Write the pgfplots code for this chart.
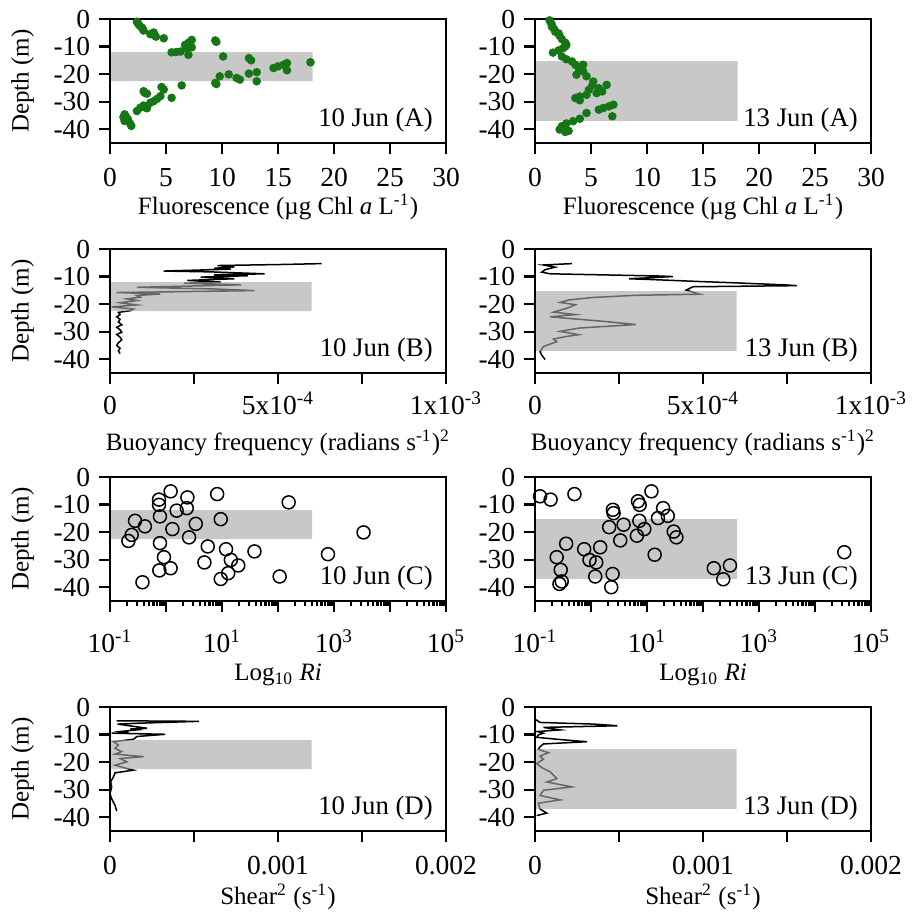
\documentclass[border=0pt]{standalone}
\usepackage{pgfplots}
\pgfplotsset{compat=1.18}
\usepackage{fontspec}
\setmainfont{Liberation Serif}
\definecolor{dotgreen}{RGB}{22,118,22}
\definecolor{bandgray}{RGB}{166,166,166}
\pgfplotsset{
  panel/.style={
    width=134.4pt, height=49.6pt, scale only axis, anchor=north west,
    ymin=-45, ymax=0, ytick={-40,-30,-20,-10,0}, yticklabels={-40,-30,-20,-10,0},
    tick align=outside, xtick pos=lower, ytick pos=left,
    major tick length=4.4pt, minor tick length=2pt,
    every tick/.style={black, line width=0.9pt},
    axis line style={line width=1pt},
    tick label style={font=\fontsize{11}{13}\selectfont},
    label style={font=\fontsize{10.5}{13}\selectfont},
    every axis y label/.style={at={(axis description cs:-0.26,0.5)}, rotate=90, anchor=center},
    axis on top, scaled x ticks=false,
  },
  band/.style={draw=none, fill=bandgray, fill opacity=0.62, forget plot},
  rowA/.style={panel, xmin=0, xmax=30, xtick={0,5,...,30}, xticklabels={0,5,10,15,20,25,30},
    xticklabel style={anchor=base, yshift=-13pt},
    every axis x label/.style={at={(axis description cs:0.5,0)}, anchor=center, yshift=-25.6pt},
    xlabel={Fluorescence (µg Chl \textit{a} L\textsuperscript{-1})}},
  rowB/.style={panel, xmin=0, xmax=1e-3, xtick={0,2.5e-4,5e-4,7.5e-4,1e-3},
    xticklabels={0,,5x10\textsuperscript{-4},,1x10\textsuperscript{-3}},
    xticklabel style={anchor=base, yshift=-12.2pt},
    every axis x label/.style={at={(axis description cs:0.5,0)}, anchor=center, yshift=-28pt},
    xlabel={Buoyancy frequency (radians s\textsuperscript{-1})\textsuperscript{2}}},
  rowC/.style={panel, xmin=0.1, xmax=1e5, xtick={0.1,1,10,100,1000,10000,100000},
    xticklabels={10\textsuperscript{-1},,10\textsuperscript{1},,10\textsuperscript{3},,10\textsuperscript{5}},
    xticklabel style={anchor=base, yshift=-16pt},
    every axis x label/.style={at={(axis description cs:0.5,0)}, anchor=center, yshift=-29.6pt},
    xlabel={Log\textsubscript{10} \textit{Ri}}},
  rowD/.style={panel, xmin=0, xmax=0.002, xtick={0,0.0005,0.001,0.0015,0.002},
    xticklabels={0,,0.001,,0.002},
    xticklabel style={anchor=base, yshift=-13.1pt},
    every axis x label/.style={at={(axis description cs:0.5,0)}, anchor=center, yshift=-26.4pt},
    xlabel={Shear\textsuperscript{2} (s\textsuperscript{-1})}},
}
\newcommand{\paneltag}[1]{\node[anchor=east, font=\fontsize{10.7}{13}\selectfont, inner sep=0pt] at (rel axis cs:0.962,0.185) {#1};}
\begin{document}
\begin{tikzpicture}
\useasboundingbox (0,0) rectangle (369.2pt,-369.2pt);
% ---------------- Row A ----------------
\begin{axis}[rowA, at={(44pt,-7.6pt)}, ylabel={Depth (m)}]
\addplot[only marks, mark=*, mark size=1.5pt, color=dotgreen] coordinates {
(2.4,-1.0) (2.5,-1.6) (2.6,-2.2) (2.8,-3.0) (2.9,-3.4) (3.0,-4.2) (3.6,-5.5) (3.9,-4.9) (4.0,-6.0) (4.1,-6.4) (4.8,-7.0)
(9.4,-7.8) (9.5,-8.3) (7.3,-7.6) (7.1,-8.4) (7.0,-8.8) (6.7,-9.4) (7.2,-10.0) (6.9,-10.6) (7.3,-10.3) (6.3,-11.8) (5.5,-12.1) (5.9,-12.0)
(7.0,-13.0) (10.1,-13.6) (12.4,-14.2) (12.6,-15.0) (17.9,-15.7) (15.8,-16.0) (15.5,-16.6) (15.0,-17.2) (14.6,-17.8) (15.8,-18.6)
(13.1,-19.3) (12.4,-19.8) (10.6,-20.1) (9.8,-20.8) (11.3,-21.4) (11.6,-22.0) (9.4,-23.2) (9.5,-23.6) (13.1,-22.6)
(6.4,-24.1) (4.6,-24.7) (4.8,-25.6) (3.0,-26.2) (3.1,-26.8) (3.3,-27.1) (5.5,-28.6) (4.5,-28.0) (4.2,-29.0) (3.9,-29.8) (3.6,-30.4)
(3.0,-31.4) (3.1,-32.0) (2.7,-32.2) (3.3,-32.4) (2.4,-33.4) (1.3,-34.6) (1.4,-35.2) (1.2,-35.6) (1.6,-36.4) (1.3,-37.0) (1.8,-38.0) (1.9,-38.8)
};
\addplot[band] coordinates {(0,-12) (18.1,-12) (18.1,-22.5) (0,-22.5) (0,-12)};
\paneltag{10 Jun (A)}
\end{axis}
\begin{axis}[rowA, at={(214pt,-7.6pt)}]
\addplot[only marks, mark=*, mark size=1.5pt, color=dotgreen] coordinates {
(1.3,-0.5) (1.4,-1.2) (1.5,-2.0) (1.5,-2.8) (1.7,-3.6) (1.8,-4.6) (2.1,-5.2) (2.2,-6.1) (2.4,-7.3) (2.7,-8.6) (2.8,-9.4) (2.7,-10.0)
(2.5,-10.6) (2.1,-11.4) (1.6,-12.2) (2.4,-13.6) (2.8,-14.6) (3.3,-15.4) (3.6,-16.6) (4.3,-16.6) (3.9,-17.8) (4.3,-19.0) (3.7,-20.2)
(4.6,-20.8) (5.2,-22.7) (6.4,-23.9) (5.1,-24.2) (5.7,-25.1) (4.8,-25.7) (6.0,-26.3) (5.5,-26.9) (4.6,-27.5) (4.0,-28.1) (3.6,-28.7)
(4.0,-29.5) (7.0,-31.1) (6.6,-31.7) (6.1,-32.3) (5.7,-32.9) (4.6,-34.1) (6.9,-35.3) (4.0,-36.2) (3.4,-37.1) (2.8,-37.9) (2.4,-38.9)
(2.2,-40.1) (2.7,-41.0) (3.0,-40.6) (2.5,-39.5)
};
\addplot[band] coordinates {(0,-15.3) (18.1,-15.3) (18.1,-37) (0,-37) (0,-15.3)};
\paneltag{13 Jun (A)}
\end{axis}
% ---------------- Row B ----------------
\begin{axis}[rowB, at={(44pt,-99.6pt)}, ylabel={Depth (m)}]
\addplot[black, line width=0.6pt] coordinates {
(6.3e-4,-5.3) (5.2e-4,-5.6) (3.2e-4,-6.0) (3.7e-4,-6.5) (3.1e-4,-7.0) (3.6e-4,-7.3) (1.6e-4,-8.0) (3.0e-4,-8.3) (4.6e-4,-9.0)
(3.1e-4,-9.4) (4.1e-4,-9.7) (2.7e-4,-10.2) (3.7e-4,-10.8) (2.3e-4,-11.4) (3.3e-4,-12.0) (2.2e-4,-12.4) (3.9e-4,-13.0)
(0.8e-4,-13.9) (3.1e-4,-14.5) (4.3e-4,-15.1) (0.2e-4,-15.8) (1.5e-4,-16.3) (0.8e-4,-16.9) (0.9e-4,-17.5) (0.5e-4,-18.1)
(0.8e-4,-18.7) (0.3e-4,-19.5) (0.8e-4,-20.3) (0.05e-4,-21.0) (0.7e-4,-21.8) (0.6e-4,-22.4) (0.25e-4,-23.0) (0.3e-4,-23.8)
(0.2e-4,-24.6) (0.3e-4,-25.5) (0.25e-4,-26.5) (0.35e-4,-27.5) (0.2e-4,-28.4) (0.3e-4,-29.3) (0.35e-4,-30.2) (0.2e-4,-31.0)
(0.3e-4,-32.0) (0.35e-4,-33.0) (0.25e-4,-34.0) (0.2e-4,-35.0) (0.3e-4,-36.0) (0.25e-4,-37.0) (0.3e-4,-38.0)
};
\addplot[band] coordinates {(0,-12) (6e-4,-12) (6e-4,-22.5) (0,-22.5) (0,-12)};
\paneltag{10 Jun (B)}
\end{axis}
\begin{axis}[rowB, at={(214pt,-99.6pt)}]
\addplot[black, line width=0.6pt] coordinates {
(1.1e-4,-5.3) (0.25e-4,-5.8) (0.6e-4,-6.6) (0.3e-4,-7.5) (0.2e-4,-8.4) (0.45e-4,-9.0) (3.7e-4,-9.8) (4.1e-4,-10.0)
(2.8e-4,-10.8) (3.5e-4,-11.1) (4.9e-4,-11.8) (6.0e-4,-12.3) (7.4e-4,-13.0) (7.8e-4,-13.3) (4.7e-4,-13.7) (4.5e-4,-14.9)
(4.9e-4,-16.4) (3.0e-4,-16.8) (1.7e-4,-17.6) (1.0e-4,-18.5) (0.75e-4,-19.4) (1.2e-4,-20.2) (1.0e-4,-21.3) (0.55e-4,-22.9)
(1.2e-4,-23.8) (0.45e-4,-24.6) (1.1e-4,-25.3) (2.0e-4,-26.2) (3.0e-4,-27.4) (1.3e-4,-28.7) (0.75e-4,-29.9) (1.3e-4,-31.1)
(0.9e-4,-31.8) (0.55e-4,-32.7) (0.65e-4,-33.6) (0.25e-4,-35.4) (0.15e-4,-37.3) (0.2e-4,-38.5) (0.3e-4,-40.1)
};
\addplot[band] coordinates {(0,-15.3) (6e-4,-15.3) (6e-4,-37) (0,-37) (0,-15.3)};
\paneltag{13 Jun (B)}
\end{axis}
% ---------------- Row C ----------------
\begin{semilogxaxis}[rowC, at={(44pt,-190.8pt)}, ylabel={Depth (m)}]
\addplot[only marks, mark=o, mark size=2.6pt, black, line width=0.6pt] coordinates {
(1.21,-5.2) (8.2,-6.2) (2.41,-7.4) (0.75,-8.2) (0.75,-10.1) (155,-9.2) (2.35,-11.3) (1.55,-12.2) (0.78,-14.3) (9.5,-15.3)
(0.28,-15.9) (3.4,-17.0) (0.42,-17.9) (1.3,-18.9) (0.244,-21.0) (0.213,-23.2) (2.58,-21.9) (3370,-20.1) (0.78,-24.0)
(5.57,-25.2) (11.8,-26.2) (38,-27.0) (780,-28.0) (0.92,-29.1) (14.4,-30.1) (4.85,-31.0) (19.5,-32.1) (1.21,-33.1)
(0.76,-33.9) (12.9,-34.9) (107,-36.1) (9.5,-37.0) (0.38,-38.2)
};
\addplot[band] coordinates {(0.1,-12) (405,-12) (405,-22.5) (0.1,-22.5) (0.1,-12)};
\paneltag{10 Jun (C)}
\end{semilogxaxis}
\begin{semilogxaxis}[rowC, at={(214pt,-190.8pt)}]
\addplot[only marks, mark=o, mark size=2.6pt, black, line width=0.6pt] coordinates {
(0.123,-7.0) (0.19,-8.2) (0.506,-6.2) (12.0,-5.2) (6.9,-8.8) (7.4,-10.1) (2.46,-11.9) (2.53,-13.1) (19.4,-11.3) (23.5,-14.1)
(15.7,-14.9) (7.3,-15.9) (3.82,-17.3) (2.11,-18.2) (8.95,-18.9) (30,-19.8) (33.5,-21.9) (6.6,-21.3) (3.33,-23.0) (0.36,-24.2)
(0.755,-26.2) (1.46,-25.5) (13.7,-28.2) (0.244,-29.1) (0.94,-30.1) (1.24,-31.0) (0.288,-33.7) (0.30,-37.9) (0.273,-38.8)
(1.19,-36.1) (2.43,-35.2) (2.30,-40.0) (156,-33.1) (303,-32.1) (230,-37.1) (33300,-27.3)
};
\addplot[band] coordinates {(0.1,-15.3) (405,-15.3) (405,-37) (0.1,-37) (0.1,-15.3)};
\paneltag{13 Jun (C)}
\end{semilogxaxis}
% ---------------- Row D ----------------
\begin{axis}[rowD, at={(44pt,-282.8pt)}, ylabel={Depth (m)}]
\addplot[black, line width=0.6pt] coordinates {
(0.4e-4,-5.0) (5.3e-4,-5.2) (1.6e-4,-5.9) (0.44e-4,-6.2) (2.2e-4,-7.7) (1.2e-4,-8.0) (1.6e-4,-8.3) (0.6e-4,-8.9) (1.1e-4,-9.3)
(0.1e-4,-9.5) (3.3e-4,-9.9) (1.6e-4,-10.7) (1.4e-4,-11.7) (0.2e-4,-12.6) (0.5e-4,-13.8) (0.3e-4,-15.0) (0.7e-4,-16.2)
(0.3e-4,-17.1) (2.0e-4,-18.0) (0.6e-4,-18.7) (1.0e-4,-19.9) (0.3e-4,-21.1) (0.8e-4,-22.0) (1.4e-4,-22.9) (0.3e-4,-23.9)
(0.2e-4,-25.4) (0.04e-4,-27.2) (0.1e-4,-29.0) (0.0,-31.5) (0.1e-4,-33.3) (0.3e-4,-35.7) (0.4e-4,-37.8)
};
\addplot[band] coordinates {(0,-12) (0.0012,-12) (0.0012,-22.5) (0,-22.5) (0,-12)};
\paneltag{10 Jun (D)}
\end{axis}
\begin{axis}[rowD, at={(214pt,-282.8pt)}]
\addplot[black, line width=0.6pt] coordinates {
(0.06e-4,-4.6) (0.3e-4,-5.6) (3.5e-4,-6.2) (4.9e-4,-6.8) (0.5e-4,-7.4) (1.5e-4,-8.3) (0.14e-4,-8.9) (0.5e-4,-9.5) (0.2e-4,-10.1)
(0.1e-4,-11.0) (1.3e-4,-11.7) (3.1e-4,-12.6) (0.5e-4,-13.4) (0.3e-4,-14.4) (0.2e-4,-15.4) (0.8e-4,-16.6) (0.3e-4,-17.8)
(0.5e-4,-19.0) (0.1e-4,-20.5) (0.4e-4,-22.0) (0.9e-4,-23.5) (1.3e-4,-26.0) (0.7e-4,-27.2) (2.2e-4,-29.0) (0.5e-4,-30.2)
(0.3e-4,-32.1) (1.5e-4,-33.7) (0.2e-4,-34.9) (0.3e-4,-37.0) (0.7e-4,-38.5) (0.1e-4,-39.4)
};
\addplot[band] coordinates {(0,-15.3) (0.0012,-15.3) (0.0012,-37) (0,-37) (0,-15.3)};
\paneltag{13 Jun (D)}
\end{axis}
\end{tikzpicture}
\end{document}
